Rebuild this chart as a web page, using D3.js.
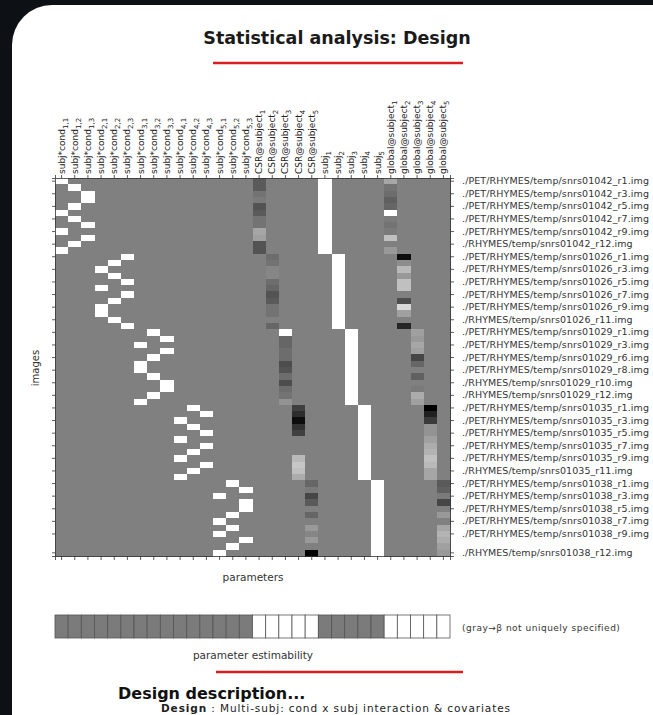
<!DOCTYPE html>
<html>
<head>
<meta charset="utf-8">
<script src="https://cdn.jsdelivr.net/npm/d3@7"></script>
<style>
  body { margin: 0; background: #0d1014; }
  svg text { font-family: "DejaVu Sans", sans-serif; }
</style>
</head>
<body>
<svg id="canvas"></svg>
<script>
// Subjects (scan prefixes)
var subjects = ['01042', '01026', '01029', '01035', '01038'];

// Condition of each of the 12 scans, per subject
var conditions = [
  [1, 2, 3, 3, 2, 1, 2, 3, 1, 3, 2, 1],
  [3, 2, 1, 2, 3, 1, 3, 2, 1, 1, 2, 3],
  [2, 3, 1, 3, 2, 1, 1, 2, 3, 3, 2, 1],
  [2, 3, 1, 2, 3, 1, 3, 2, 1, 3, 2, 1],
  [2, 3, 1, 3, 3, 2, 1, 2, 1, 3, 2, 1]
];

// CSR covariate (scaled, 0 = mean)
var csrValues = [
  [-0.3, -0.3, -0.1, -0.05, -0.35, -0.3, -0.1, -0.1, 0.3, 0.25, -0.35, -0.35],
  [-0.15, -0.1, 0.05, 0.05, -0.15, -0.2, -0.35, -0.3, -0.1, -0.1, 0, -0.2],
  [1, -0.2, -0.2, -0.15, -0.15, -0.4, -0.35, -0.15, -0.4, -0.15, -0.1, 0.15],
  [-0.5, -0.65, -0.9, -0.6, -0.5, 0, 0, 0, 0.45, 0.55, 0.5, 0.35],
  [-0.2, -0.05, -0.45, -0.3, 0, -0.2, 0, 0.2, 0.05, 0.2, 0, -1]
];

// global covariate (scaled, 0 = mean)
var globalValues = [
  [0.3, -0.1, -0.15, -0.25, -0.2, 1, -0.05, -0.1, -0.05, 0.5, 0, 0.2],
  [-0.9, 0.1, 0.45, 0.2, 0.5, 0.5, 0, -0.4, 0.7, 0.25, 0, -0.7],
  [0.25, 0.2, 0.3, 0.25, -0.45, -0.2, 0, -0.25, 0, -0.05, 0.35, 0.25],
  [-1, -0.75, -0.55, 0.15, 0.15, 0.25, 0.35, 0.4, 0.5, 0.45, 0.3, 0.3],
  [-0.3, -0.25, -0.05, -0.45, 0, 0.2, 0, 0.3, 0.4, 0.35, 0.25, 0.2]
];

// 1 = uniquely specified (white), 0 = gray
var estimable = [0, 0, 0, 0, 0, 0, 0, 0, 0, 0, 0, 0, 0, 0, 0,
                 1, 1, 1, 1, 1,
                 0, 0, 0, 0, 0,
                 1, 1, 1, 1, 1];

// Image labels on the right and the rows they sit on
var imageLabels = [
  './PET/RHYMES/temp/snrs01042_r1.img', './PET/RHYMES/temp/snrs01042_r3.img',
  './PET/RHYMES/temp/snrs01042_r5.img', './PET/RHYMES/temp/snrs01042_r7.img',
  './PET/RHYMES/temp/snrs01042_r9.img', './RHYMES/temp/snrs01042_r12.img',
  './PET/RHYMES/temp/snrs01026_r1.img', './PET/RHYMES/temp/snrs01026_r3.img',
  './PET/RHYMES/temp/snrs01026_r5.img', './PET/RHYMES/temp/snrs01026_r7.img',
  './PET/RHYMES/temp/snrs01026_r9.img', './RHYMES/temp/snrs01026_r11.img',
  './PET/RHYMES/temp/snrs01029_r1.img', './PET/RHYMES/temp/snrs01029_r3.img',
  './PET/RHYMES/temp/snrs01029_r6.img', './PET/RHYMES/temp/snrs01029_r8.img',
  './RHYMES/temp/snrs01029_r10.img', './RHYMES/temp/snrs01029_r12.img',
  './PET/RHYMES/temp/snrs01035_r1.img', './PET/RHYMES/temp/snrs01035_r3.img',
  './PET/RHYMES/temp/snrs01035_r5.img', './PET/RHYMES/temp/snrs01035_r7.img',
  './PET/RHYMES/temp/snrs01035_r9.img', './RHYMES/temp/snrs01035_r11.img',
  './PET/RHYMES/temp/snrs01038_r1.img', './PET/RHYMES/temp/snrs01038_r3.img',
  './PET/RHYMES/temp/snrs01038_r5.img', './PET/RHYMES/temp/snrs01038_r7.img',
  './PET/RHYMES/temp/snrs01038_r9.img', './RHYMES/temp/snrs01038_r12.img'
];
var labelRows = [0, 2, 4, 6, 8, 10, 12, 14, 16, 18, 20, 22, 24, 26, 28,
                 30, 32, 34, 36, 38, 40, 42, 44, 46, 48, 50, 52, 54, 56, 59];

var width = 653;
var height = 715;
var scansPerSubject = 12;
var nCond = 3;

var svg = d3.select('#canvas')
  .attr('width', width)
  .attr('height', height);

// White panel
svg.append('rect')
  .attr('x', 12).attr('y', 5)
  .attr('width', 700).attr('height', 780)
  .attr('rx', 40)
  .attr('fill', '#fff');

// Title
svg.append('text')
  .attr('x', 337).attr('y', 44)
  .attr('text-anchor', 'middle')
  .attr('font-size', 17.5)
  .attr('font-weight', 'bold')
  .attr('fill', '#1a1a1a')
  .text('Statistical analysis: Design');

svg.append('line')
  .attr('x1', 213).attr('x2', 463)
  .attr('y1', 63).attr('y2', 63)
  .attr('stroke', '#d71f1f')
  .attr('stroke-width', 2.5);

// Columns
var columns = [];
subjects.forEach(function(s, i) {
  for (var c = 1; c <= nCond; c++) {
    columns.push({ type: 'cond', subj: i, cond: c, name: 'subj*cond', sub: (i + 1) + ',' + c });
  }
});
subjects.forEach(function(s, i) {
  columns.push({ type: 'csr', subj: i, name: 'CSR@subject', sub: '' + (i + 1) });
});
subjects.forEach(function(s, i) {
  columns.push({ type: 'subj', subj: i, name: 'subj', sub: '' + (i + 1) });
});
subjects.forEach(function(s, i) {
  columns.push({ type: 'global', subj: i, name: 'global@subject', sub: '' + (i + 1) });
});

var nRows = subjects.length * scansPerSubject;

// Cells
var cells = [];
d3.range(nRows).forEach(function(r) {
  var s = Math.floor(r / scansPerSubject);
  var j = r % scansPerSubject;
  columns.forEach(function(col, c) {
    var v = 0;
    if (col.subj === s) {
      if (col.type === 'cond') v = conditions[s][j] === col.cond ? 1 : 0;
      else if (col.type === 'csr') v = csrValues[s][j];
      else if (col.type === 'subj') v = 1;
      else v = globalValues[s][j];
    }
    cells.push({ row: r, col: c, value: v });
  });
});

var x = d3.scaleBand()
  .domain(d3.range(columns.length))
  .range([55, 450]);

var y = d3.scaleBand()
  .domain(d3.range(nRows))
  .range([178, 556]);

var color = d3.scaleLinear()
  .domain([-1, 0, 1])
  .range(['#000000', '#808080', '#ffffff']);

svg.append('g')
  .classed('matrix', true)
  .attr('shape-rendering', 'crispEdges')
  .selectAll('rect')
  .data(cells)
  .enter()
  .append('rect')
  .attr('x', function(d) { return x(d.col); })
  .attr('y', function(d) { return y(d.row); })
  .attr('width', x.bandwidth() + 0.5)
  .attr('height', y.bandwidth() + 0.5)
  .attr('fill', function(d) { return color(d.value); });

// Axes
var axisColor = '#333';

var topAxis = svg.append('g')
  .attr('transform', 'translate(0,178)')
  .call(d3.axisTop(x).tickSize(3).tickFormat(''));

var bottomAxis = svg.append('g')
  .attr('transform', 'translate(0,556)')
  .call(d3.axisBottom(x).tickSize(4).tickFormat(''));

var leftAxis = svg.append('g')
  .attr('transform', 'translate(55,0)')
  .call(d3.axisLeft(y).tickValues(labelRows).tickSize(3).tickFormat(''));

var rightAxis = svg.append('g')
  .attr('transform', 'translate(450,0)')
  .call(d3.axisRight(y)
    .tickValues(labelRows)
    .tickSize(4)
    .tickPadding(8)
    .tickFormat(function(d, i) { return imageLabels[i]; }));

[topAxis, bottomAxis, leftAxis, rightAxis].forEach(function(a) {
  a.select('.domain').attr('stroke', axisColor).attr('stroke-width', 0.8);
  a.selectAll('.tick line').attr('stroke', axisColor).attr('stroke-width', 0.8);
});

// stretch the file names so they fill the space to the right, like the original
var charWidth = 5.5;
rightAxis.selectAll('.tick text')
  .attr('font-family', '"DejaVu Sans", sans-serif')
  .attr('font-size', 9.5)
  .attr('fill', '#333')
  .attr('textLength', function(d, i) { return imageLabels[i].length * charWidth; })
  .attr('lengthAdjust', 'spacing');

// Column labels (rotated, with subscripts)
var colLabels = svg.append('g')
  .selectAll('text')
  .data(columns)
  .enter()
  .append('text')
  .attr('transform', function(d, i) {
    return 'translate(' + (x(i) + x.bandwidth() / 2 + 3) + ',174) rotate(-90)';
  })
  .attr('font-size', 9)
  .attr('fill', '#222');

colLabels.append('tspan').text(function(d) { return d.name; });
colLabels.append('tspan')
  .attr('dy', 3)
  .attr('font-size', 7)
  .text(function(d) { return d.sub; });

// Axis titles
svg.append('text')
  .attr('transform', 'translate(39,368) rotate(-90)')
  .attr('text-anchor', 'middle')
  .attr('font-size', 10)
  .attr('fill', '#333')
  .text('images');

svg.append('text')
  .attr('x', 253).attr('y', 581)
  .attr('text-anchor', 'middle')
  .attr('font-size', 10.5)
  .attr('fill', '#333')
  .text('parameters');

// Estimability bar
svg.append('g')
  .selectAll('rect')
  .data(estimable)
  .enter()
  .append('rect')
  .attr('x', function(d, i) { return x(i); })
  .attr('y', 615)
  .attr('width', x.bandwidth())
  .attr('height', 23)
  .attr('fill', function(d) { return d ? '#ffffff' : '#7b7b7b'; })
  .attr('stroke', '#555')
  .attr('stroke-width', 0.8);

svg.append('text')
  .attr('x', 462).attr('y', 631)
  .attr('font-size', 9)
  .attr('letter-spacing', 0.5)
  .attr('fill', '#333')
  .text('(gray\u2192\u03b2 not uniquely specified)');

svg.append('text')
  .attr('x', 253).attr('y', 659)
  .attr('text-anchor', 'middle')
  .attr('font-size', 10.5)
  .attr('fill', '#333')
  .text('parameter estimability');

svg.append('line')
  .attr('x1', 216).attr('x2', 463)
  .attr('y1', 672).attr('y2', 672)
  .attr('stroke', '#d71f1f')
  .attr('stroke-width', 2.5);

// Description
svg.append('text')
  .attr('x', 118).attr('y', 699)
  .attr('font-size', 16)
  .attr('font-weight', 'bold')
  .attr('fill', '#111')
  .text('Design description...');

var desc = svg.append('text')
  .attr('x', 161).attr('y', 712)
  .attr('font-size', 10.5)
  .attr('letter-spacing', 0.9)
  .attr('fill', '#222');
desc.append('tspan').attr('font-weight', 'bold').text('Design');
desc.append('tspan').text(' : Multi-subj: cond x subj interaction & covariates');
</script>
</body>
</html>
